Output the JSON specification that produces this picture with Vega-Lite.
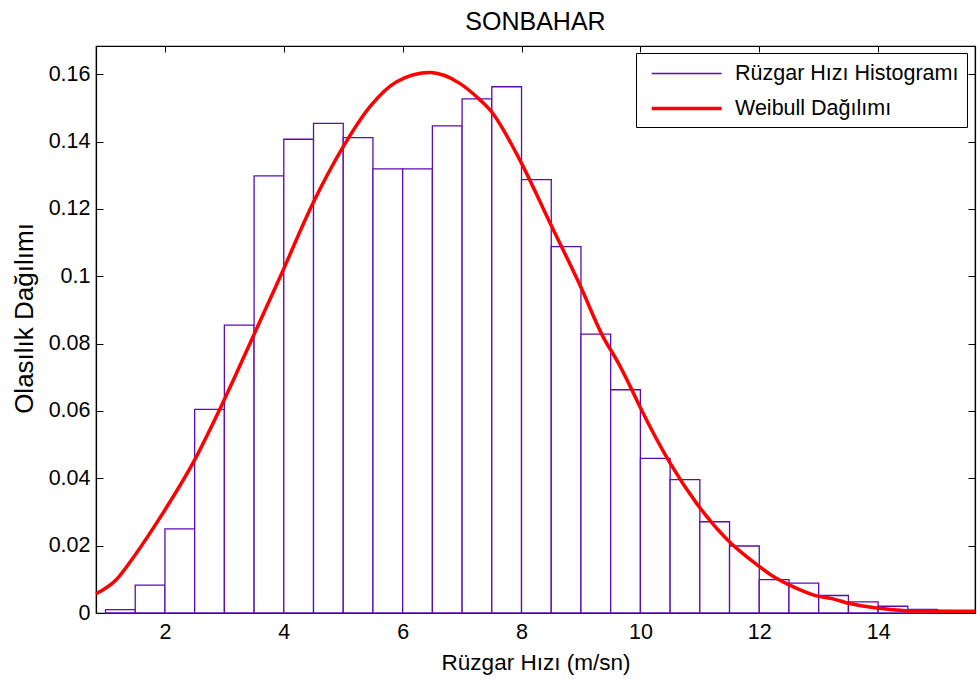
{
  "$schema": "https://vega.github.io/schema/vega-lite/v6.json",
  "width": 879,
  "height": 567,
  "autosize": "none",
  "padding": {"left": 96, "top": 46, "right": 2, "bottom": 73},
  "background": "white",
  "title": {"text": "SONBAHAR", "fontSize": 25, "font": "Liberation Sans", "fontWeight": "normal", "color": "black", "anchor": "middle", "frame": "group", "baseline": "alphabetic", "offset": -9},
  "datasets": {
    "hist": [
      {"x0": 1.0, "x1": 1.5, "p": 0.0010, "series": "Rüzgar Hızı Histogramı"},
      {"x0": 1.5, "x1": 2.0, "p": 0.0083, "series": "Rüzgar Hızı Histogramı"},
      {"x0": 2.0, "x1": 2.5, "p": 0.0250, "series": "Rüzgar Hızı Histogramı"},
      {"x0": 2.5, "x1": 3.0, "p": 0.0605, "series": "Rüzgar Hızı Histogramı"},
      {"x0": 3.0, "x1": 3.5, "p": 0.0855, "series": "Rüzgar Hızı Histogramı"},
      {"x0": 3.5, "x1": 4.0, "p": 0.1298, "series": "Rüzgar Hızı Histogramı"},
      {"x0": 4.0, "x1": 4.5, "p": 0.1407, "series": "Rüzgar Hızı Histogramı"},
      {"x0": 4.5, "x1": 5.0, "p": 0.1454, "series": "Rüzgar Hızı Histogramı"},
      {"x0": 5.0, "x1": 5.5, "p": 0.1412, "series": "Rüzgar Hızı Histogramı"},
      {"x0": 5.5, "x1": 6.0, "p": 0.1319, "series": "Rüzgar Hızı Histogramı"},
      {"x0": 6.0, "x1": 6.5, "p": 0.1319, "series": "Rüzgar Hızı Histogramı"},
      {"x0": 6.5, "x1": 7.0, "p": 0.1447, "series": "Rüzgar Hızı Histogramı"},
      {"x0": 7.0, "x1": 7.5, "p": 0.1527, "series": "Rüzgar Hızı Histogramı"},
      {"x0": 7.5, "x1": 8.0, "p": 0.1563, "series": "Rüzgar Hızı Histogramı"},
      {"x0": 8.0, "x1": 8.5, "p": 0.1287, "series": "Rüzgar Hızı Histogramı"},
      {"x0": 8.5, "x1": 9.0, "p": 0.1088, "series": "Rüzgar Hızı Histogramı"},
      {"x0": 9.0, "x1": 9.5, "p": 0.0828, "series": "Rüzgar Hızı Histogramı"},
      {"x0": 9.5, "x1": 10.0, "p": 0.0663, "series": "Rüzgar Hızı Histogramı"},
      {"x0": 10.0, "x1": 10.5, "p": 0.0459, "series": "Rüzgar Hızı Histogramı"},
      {"x0": 10.5, "x1": 11.0, "p": 0.0396, "series": "Rüzgar Hızı Histogramı"},
      {"x0": 11.0, "x1": 11.5, "p": 0.0271, "series": "Rüzgar Hızı Histogramı"},
      {"x0": 11.5, "x1": 12.0, "p": 0.0199, "series": "Rüzgar Hızı Histogramı"},
      {"x0": 12.0, "x1": 12.5, "p": 0.0099, "series": "Rüzgar Hızı Histogramı"},
      {"x0": 12.5, "x1": 13.0, "p": 0.0089, "series": "Rüzgar Hızı Histogramı"},
      {"x0": 13.0, "x1": 13.5, "p": 0.0052, "series": "Rüzgar Hızı Histogramı"},
      {"x0": 13.5, "x1": 14.0, "p": 0.0033, "series": "Rüzgar Hızı Histogramı"},
      {"x0": 14.0, "x1": 14.5, "p": 0.0020, "series": "Rüzgar Hızı Histogramı"},
      {"x0": 14.5, "x1": 15.0, "p": 0.0011, "series": "Rüzgar Hızı Histogramı"}
    ],
    "weibull": [
      {"v": 0.84, "p": 0.0057, "series": "Weibull Dağılımı"},
      {"v": 1.18, "p": 0.0099, "series": "Weibull Dağılımı"},
      {"v": 1.48, "p": 0.0168, "series": "Weibull Dağılımı"},
      {"v": 1.96, "p": 0.0295, "series": "Weibull Dağılımı"},
      {"v": 2.47, "p": 0.0445, "series": "Weibull Dağılımı"},
      {"v": 2.97, "p": 0.0623, "series": "Weibull Dağılımı"},
      {"v": 3.48, "p": 0.0820, "series": "Weibull Dağılımı"},
      {"v": 3.93, "p": 0.0995, "series": "Weibull Dağılımı"},
      {"v": 4.49, "p": 0.1217, "series": "Weibull Dağılımı"},
      {"v": 5.00, "p": 0.1385, "series": "Weibull Dağılımı"},
      {"v": 5.45, "p": 0.1504, "series": "Weibull Dağılımı"},
      {"v": 5.90, "p": 0.1578, "series": "Weibull Dağılımı"},
      {"v": 6.46, "p": 0.1605, "series": "Weibull Dağılımı"},
      {"v": 6.96, "p": 0.1573, "series": "Weibull Dağılımı"},
      {"v": 7.30, "p": 0.1524, "series": "Weibull Dağılımı"},
      {"v": 7.47, "p": 0.1494, "series": "Weibull Dağılımı"},
      {"v": 7.97, "p": 0.1346, "series": "Weibull Dağılımı"},
      {"v": 8.48, "p": 0.1158, "series": "Weibull Dağılımı"},
      {"v": 8.98, "p": 0.0975, "series": "Weibull Dağılımı"},
      {"v": 9.37, "p": 0.0821, "series": "Weibull Dağılımı"},
      {"v": 9.63, "p": 0.0742, "series": "Weibull Dağılımı"},
      {"v": 9.82, "p": 0.0676, "series": "Weibull Dağılımı"},
      {"v": 9.99, "p": 0.0613, "series": "Weibull Dağılımı"},
      {"v": 10.50, "p": 0.0445, "series": "Weibull Dağılımı"},
      {"v": 10.94, "p": 0.0327, "series": "Weibull Dağılımı"},
      {"v": 11.45, "p": 0.0220, "series": "Weibull Dağılımı"},
      {"v": 11.95, "p": 0.0145, "series": "Weibull Dağılımı"},
      {"v": 12.23, "p": 0.0109, "series": "Weibull Dağılımı"},
      {"v": 12.62, "p": 0.0074, "series": "Weibull Dağılımı"},
      {"v": 12.96, "p": 0.0051, "series": "Weibull Dağılımı"},
      {"v": 13.24, "p": 0.0042, "series": "Weibull Dağılımı"},
      {"v": 13.52, "p": 0.0028, "series": "Weibull Dağılımı"},
      {"v": 13.97, "p": 0.0015, "series": "Weibull Dağılımı"},
      {"v": 14.25, "p": 0.0010, "series": "Weibull Dağılımı"},
      {"v": 14.64, "p": 0.0006, "series": "Weibull Dağılımı"},
      {"v": 15.63, "p": 0.0005, "series": "Weibull Dağılımı"}
    ]
  },
  "layer": [
    {
      "data": {"name": "hist"},
      "mark": {"type": "rect", "fill": "white", "fillOpacity": 1, "strokeOpacity": 1},
      "encoding": {
        "x": {"field": "x0", "type": "quantitative",
              "scale": {"domain": [0.84, 15.63], "nice": false, "zero": false},
              "axis": {"orient": "bottom", "values": [2, 4, 6, 8, 10, 12, 14], "format": "d", "title": "Rüzgar Hızı (m/sn)", "grid": false, "tickSize": -6, "labelPadding": 14, "titleY": 56, "titleBaseline": "alphabetic"}},
        "x2": {"field": "x1"},
        "y": {"field": "p", "type": "quantitative",
              "scale": {"domain": [0, 0.1684], "nice": false, "zero": true},
              "axis": {"orient": "left", "values": [0, 0.02, 0.04, 0.06, 0.08, 0.1, 0.12, 0.14, 0.16], "format": "~g", "title": "Olasılık Dağılımı", "grid": false, "tickSize": -7, "labelPadding": 13, "titleAngle": -90, "titleX": -64, "titleY": 272, "titleBaseline": "alphabetic", "titleAlign": "center", "titleFontSize": 26}},
        "y2": {"datum": 0},
        "stroke": {"field": "series", "type": "nominal",
                   "scale": {"domain": ["Rüzgar Hızı Histogramı", "Weibull Dağılımı"], "range": ["#5a0db5", "#ff0000"]},
                   "legend": {"title": null}},
        "strokeWidth": {"field": "series", "type": "nominal",
                        "scale": {"domain": ["Rüzgar Hızı Histogramı", "Weibull Dağılımı"], "range": [1.3, 3.5]},
                        "legend": {"title": null}}
      }
    },
    {
      "data": {"name": "weibull"},
      "mark": {"type": "line", "interpolate": "monotone"},
      "encoding": {
        "x": {"field": "v", "type": "quantitative",
              "axis": {"orient": "top", "values": [2, 4, 6, 8, 10, 12, 14], "labels": false, "title": null, "grid": false, "tickSize": -6}},
        "y": {"field": "p", "type": "quantitative",
              "axis": {"orient": "right", "values": [0, 0.02, 0.04, 0.06, 0.08, 0.1, 0.12, 0.14, 0.16], "labels": false, "title": null, "grid": false, "tickSize": -7}},
        "stroke": {"field": "series", "type": "nominal", "legend": {"title": null}},
        "strokeWidth": {"field": "series", "type": "nominal", "legend": {"title": null}}
      }
    }
  ],
  "config": {
    "font": "Liberation Sans",
    "view": {"stroke": "black", "strokeWidth": 1.2},
    "axis": {
      "domainColor": "black", "domainWidth": 1.2, "tickColor": "black", "tickWidth": 1,
      "labelColor": "black", "labelFont": "Liberation Sans", "labelFontSize": 21.5,
      "titleColor": "black", "titleFont": "Liberation Sans", "titleFontSize": 22.5, "titleFontWeight": "normal"
    },
    "legend": {
      "orient": "none", "legendX": 540, "legendY": 7,
      "strokeColor": "black", "fillColor": "white", "padding": 8, "cornerRadius": 0,
      "symbolType": "M-0.5,0H5.5", "symbolSize": 544, "labelOffset": 64,
      "labelFont": "Liberation Sans", "labelFontSize": 21.5, "labelColor": "black", "labelLimit": 400,
      "rowPadding": 11, "symbolOpacity": 1, "symbolFillColor": "white"
    }
  }
}
